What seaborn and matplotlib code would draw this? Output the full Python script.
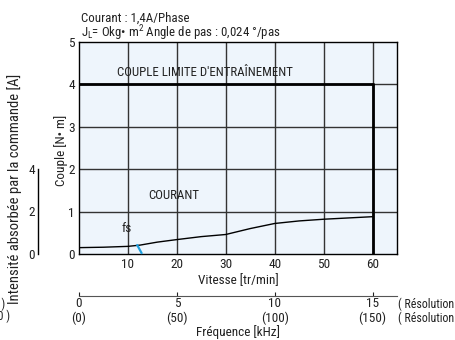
import matplotlib
matplotlib.use("Agg")
import matplotlib.pyplot as plt
import seaborn as sns
import pandas as pd

# Torque curve (speed in tr/min, torque in N·m)
speed = [0, 5, 10, 12.5, 16, 20, 25, 30, 35, 40, 45, 50, 55, 60]
torque = [0.15, 0.16, 0.18, 0.21, 0.28, 0.34, 0.41, 0.46, 0.60, 0.72, 0.78, 0.82, 0.85, 0.88]

# Pull-out limit
limit_torque = 4
limit_speed = 60

# Start frequency marker
fs_x = [11.9, 12.8]
fs_y = [0.21, 0.02]

speed_ticks = [10, 20, 30, 40, 50, 60]
torque_ticks = [0, 1, 2, 3, 4, 5]
freq_ticks = [0, 5, 10, 15]
freq_labels = ["0\n(0)", "5\n(50)", "10\n(100)", "15\n(150)"]
current_ticks = [0, 2, 4]

sns.set_style("white")
plt.rcParams["font.family"] = ["Roboto Condensed", "Liberation Sans Narrow", "DejaVu Sans"]
plt.rcParams["font.stretch"] = "condensed"
plt.rcParams["mathtext.fontset"] = "custom"
plt.rcParams["mathtext.rm"] = "Roboto Condensed"
plt.rcParams["mathtext.it"] = "Roboto Condensed"

TXT = "#222222"
FS = 9.3
W, H = 456, 340
fig = plt.figure(figsize=(W / 100, H / 100), dpi=100)

x0, x1 = 79, 397
y0, y1 = 254, 42
ax = fig.add_axes([x0 / W, 1 - y0 / H, (x1 - x0) / W, (y0 - y1) / H])
ax.set_facecolor("#eef5fc")
ax.set_xlim(0, 65)
ax.set_ylim(0, 5)

for v in speed_ticks:
    ax.axvline(v, color="#333333", lw=1.0, zorder=1)
for v in torque_ticks[1:-1]:
    ax.axhline(v, color="#333333", lw=1.0, zorder=1)

df = pd.DataFrame({"speed": speed, "torque": torque})
sns.lineplot(data=df, x="speed", y="torque", ax=ax, color="black", lw=1.0, zorder=3)

ax.plot([0, limit_speed], [limit_torque, limit_torque], color="black", lw=2.0, zorder=4)
ax.plot([limit_speed, limit_speed], [0, limit_torque], color="black", lw=2.0, zorder=4)
ax.plot(fs_x, fs_y, color="#1ea0e0", lw=1.6, zorder=5, clip_on=False)

for s in ax.spines.values():
    s.set_color("black")
    s.set_linewidth(1.0)

ax.set_xticks(speed_ticks)
ax.set_yticks(torque_ticks)
ax.tick_params(axis="both", length=0, labelsize=9.5, colors=TXT, pad=3)
ax.set_xlabel("Vitesse [tr/min]", fontsize=9.5, color=TXT, labelpad=2)
ax.set_ylabel("Couple [N• m]", fontsize=9.5, color=TXT)
ax.yaxis.set_label_coords(-0.035, 0.49)

ax.text(25.7, 4.27, "COUPLE LIMITE D'ENTRAÎNEMENT", ha="center", va="center", fontsize=FS, color=TXT)
ax.text(19.4, 1.39, "COURANT", ha="center", va="center", fontsize=FS, color=TXT)
ax.text(9.8, 0.61, "fs", ha="center", va="center", fontsize=9.5, color=TXT)

# Frequency scale below the speed axis
sec = ax.secondary_xaxis((254 - 296) / (y0 - y1), functions=(lambda v: v / 4, lambda f: f * 4))
sec.set_xticks(freq_ticks)
sec.set_xticklabels(freq_labels, linespacing=1.1)
sec.tick_params(direction="in", length=3, labelsize=9.5, colors=TXT, pad=1)
sec.spines["bottom"].set_color("#555555")
sec.set_xlabel("Fréquence [kHz]", fontsize=9.5, color=TXT, labelpad=0)

# Current scale on the left
cax = fig.add_axes([38 / W, 1 - y0 / H, 0.001, (y0 - 169) / H])
cax.set_ylim(0, 4)
cax.set_yticks(current_ticks)
cax.set_xticks([])
cax.patch.set_visible(False)
for k in ["top", "right", "bottom"]:
    cax.spines[k].set_visible(False)
cax.spines["left"].set_color("black")
cax.spines["left"].set_linewidth(1.0)
cax.tick_params(axis="y", direction="in", length=3, labelsize=9.5, colors=TXT, pad=2)

fig.text(15 / W, 1 - 189 / H, "Intensité absorbée par la commande [A]", rotation=90,
         ha="center", va="center", fontsize=10.5, color=TXT)

fig.text(81 / W, 1 - 18 / H, "Courant : 1,4A/Phase", ha="left", va="center", fontsize=FS, color=TXT)
fig.text(81 / W, 1 - 33 / H, "J$_\\mathregular{L}$= Okg• m$^\\mathregular{2}$ Angle de pas : 0,024 °/pas",
         ha="left", va="center", fontsize=FS, color=TXT)

for yy, s in [(304, "( Résolution 1 )"), (318, "( Résolution 10 )")]:
    fig.text(398 / W, 1 - yy / H, s, ha="left", va="center", fontsize=8.6, color=TXT)
fig.text(5 / W, 1 - 304 / H, "( Résolution 1 )", ha="right", va="center", fontsize=8.6, color=TXT)
fig.text(10 / W, 1 - 316 / H, "( Résolution 10 )", ha="right", va="center", fontsize=8.6, color=TXT)

fig.savefig("out.png", dpi=100)
